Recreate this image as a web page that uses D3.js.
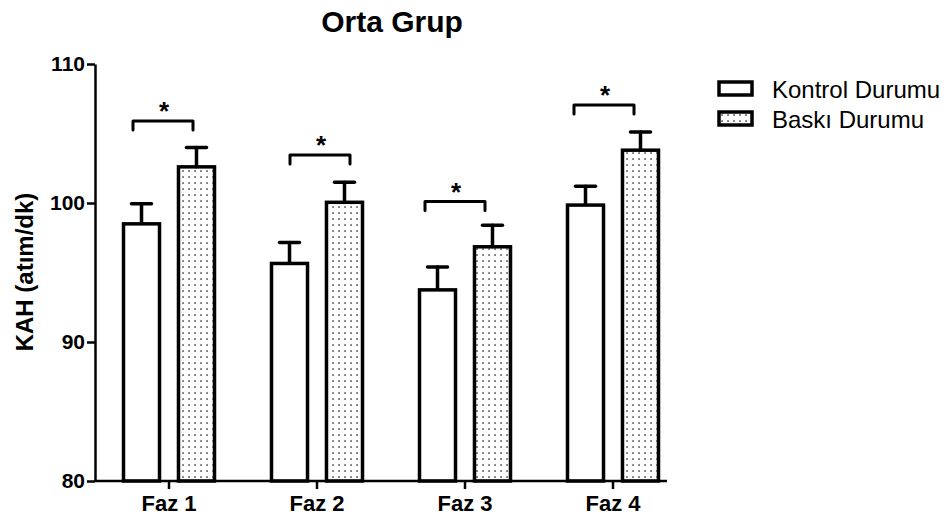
<!DOCTYPE html>
<html>
<head>
<meta charset="utf-8">
<script src="https://cdn.jsdelivr.net/npm/d3@7"></script>
<style>
  body { margin: 0; background: #fff; }
  svg { display: block; font-family: "Liberation Sans", Arial, sans-serif; }
</style>
</head>
<body>
<svg id="chart" width="952" height="520"></svg>
<script>
// values
var phases = ["Faz 1", "Faz 2", "Faz 3", "Faz 4"];
var kontrolMean = [98.5, 95.65, 93.75, 99.85];
var kontrolSem = [1.45, 1.5, 1.65, 1.35];
var baskiMean = [102.6, 100.05, 96.85, 103.8];
var baskiSem = [1.4, 1.45, 1.55, 1.3];
var bracketLevel = [105.9, 103.45, 100.1, 107.05];
var yTicks = [80, 90, 100, 110];
var seriesNames = ["Kontrol Durumu", "Baskı Durumu"];

var svg = d3.select("#chart");

var x = d3.scaleBand().domain(phases).range([95, 687]).padding(0);
var sub = d3.scaleBand().domain([0, 1]).range([-45.5, 45.5]).paddingInner(0.345);
var y = d3.scaleLinear().domain([80, 110]).range([481, 64]);

// bracket nudges, px (the brackets sit a bit off the group centres)
var bracketShift = [-6, 3, -10, -9];

// dotted fill
var defs = svg.append("defs");
defs.append("pattern")
    .attr("id", "dots")
    .attr("patternUnits", "userSpaceOnUse")
    .attr("width", 6).attr("height", 6)
  .append("rect")
    .attr("x", 2.3).attr("y", 2.3)
    .attr("width", 1.5).attr("height", 1.5)
    .attr("fill", "#333");

var rows = phases.map(function (p, i) {
  return [
    { phase: p, s: 0, mean: kontrolMean[i], sem: kontrolSem[i] },
    { phase: p, s: 1, mean: baskiMean[i], sem: baskiSem[i] }
  ];
});
var flat = d3.merge(rows);

function cx(d) { return x(d.phase) + x.bandwidth() / 2 + sub(d.s) + sub.bandwidth() / 2; }

// error bars (upper only)
var err = svg.append("g").attr("stroke", "#000").attr("stroke-width", 3.5).attr("stroke-linecap", "round");
err.selectAll("line.v").data(flat).enter().append("line")
    .attr("class", "v")
    .attr("x1", cx).attr("x2", cx)
    .attr("y1", function (d) { return y(d.mean); })
    .attr("y2", function (d) { return y(d.mean + d.sem); });
err.selectAll("line.c").data(flat).enter().append("line")
    .attr("class", "c")
    .attr("x1", function (d) { return cx(d) - 10; })
    .attr("x2", function (d) { return cx(d) + 10; })
    .attr("y1", function (d) { return y(d.mean + d.sem); })
    .attr("y2", function (d) { return y(d.mean + d.sem); });

// bars
svg.append("g").selectAll("rect").data(flat).enter().append("rect")
    .attr("x", function (d) { return x(d.phase) + x.bandwidth() / 2 + sub(d.s); })
    .attr("width", sub.bandwidth())
    .attr("y", function (d) { return y(d.mean); })
    .attr("height", function (d) { return y(80) - y(d.mean); })
    .attr("fill", function (d) { return d.s ? "url(#dots)" : "#fff"; })
    .attr("stroke", "#000")
    .attr("stroke-width", 3.5);

// significance brackets
var br = svg.append("g");
phases.forEach(function (p, i) {
  var mid = x(p) + x.bandwidth() / 2 + bracketShift[i];
  var yl = y(bracketLevel[i]);
  br.append("path")
      .attr("d", "M" + (mid - 30) + "," + (yl + 9) + "V" + yl + "H" + (mid + 30) + "V" + (yl + 9))
      .attr("fill", "none")
      .attr("stroke", "#000")
      .attr("stroke-width", 3)
      .attr("stroke-linejoin", "round")
      .attr("stroke-linecap", "round");
  br.append("text")
      .attr("x", mid + 1).attr("y", yl - 1)
      .attr("text-anchor", "middle")
      .attr("font-size", 26).attr("font-weight", "bold")
      .text("*");
});

// y axis
var yAxis = svg.append("g")
    .attr("transform", "translate(95,0)")
    .call(d3.axisLeft(y).tickValues(yTicks).tickSize(8).tickSizeOuter(0).tickPadding(2));
yAxis.selectAll("path, line").attr("stroke", "#000").attr("stroke-width", 2.5);
yAxis.selectAll("text")
    .attr("font-size", 21).attr("font-weight", "bold")
    .attr("font-family", "Liberation Sans, Arial, sans-serif")
    .attr("fill", "#000");

// x axis
var xAxis = svg.append("g")
    .attr("transform", "translate(0,481)")
    .call(d3.axisBottom(x).tickSize(8).tickSizeOuter(0).tickPadding(6));
xAxis.select(".domain").remove();
xAxis.append("line")
    .attr("x1", 94).attr("x2", 667)
    .attr("y1", 0).attr("y2", 0);
xAxis.selectAll("line").attr("stroke", "#000").attr("stroke-width", 2.5);
xAxis.selectAll("text")
    .attr("font-size", 22).attr("font-weight", "bold")
    .attr("font-family", "Liberation Sans, Arial, sans-serif")
    .attr("fill", "#000");

// titles
svg.append("text")
    .attr("x", 392).attr("y", 32)
    .attr("text-anchor", "middle")
    .attr("font-size", 30).attr("font-weight", "bold")
    .text("Orta Grup");

svg.append("text")
    .attr("transform", "translate(33,272) rotate(-90)")
    .attr("text-anchor", "middle")
    .attr("font-size", 24).attr("font-weight", "bold")
    .text("KAH (atım/dk)");

// legend
var lg = svg.append("g").attr("transform", "translate(719,82)");
seriesNames.forEach(function (name, i) {
  lg.append("rect")
      .attr("x", 0).attr("y", i * 30)
      .attr("width", 33).attr("height", 13)
      .attr("fill", i ? "url(#dots)" : "#fff")
      .attr("stroke", "#000").attr("stroke-width", 3.5);
  lg.append("text")
      .attr("x", 53).attr("y", i * 30 + 16)
      .attr("font-size", 24)
      .text(name);
});
</script>
</body>
</html>
